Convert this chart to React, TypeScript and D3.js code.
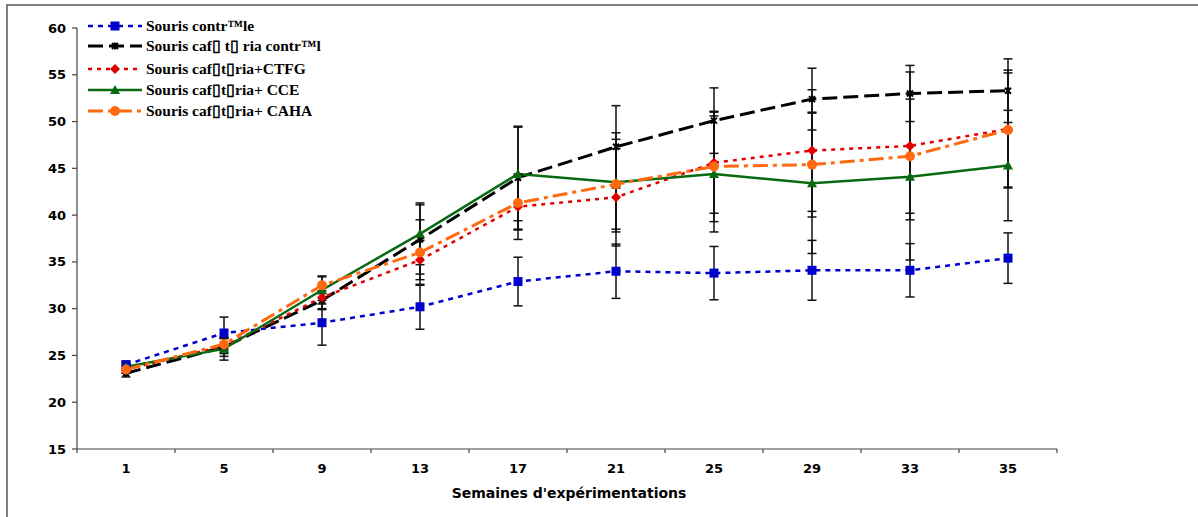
import React from 'react';
import * as d3 from 'd3';

const weeks = ['1', '5', '9', '13', '17', '21', '25', '29', '33', '35'];

const controle = [24.0, 27.4, 28.5, 30.2, 32.9, 34.0, 33.8, 34.1, 34.1, 35.4];
const cafControle = [23.1, 25.9, 30.9, 37.4, 44.0, 47.3, 50.1, 52.4, 53.0, 53.3];
const ctfg = [23.5, 26.0, 31.2, 35.2, 40.9, 41.9, 45.6, 46.9, 47.4, 49.2];
const cce = [23.8, 25.7, 32.0, 38.0, 44.4, 43.5, 44.4, 43.4, 44.1, 45.3];
const caha = [23.5, 26.2, 32.5, 36.0, 41.3, 43.3, 45.2, 45.4, 46.3, 49.1];

const controleSd = [0.4, 1.7, 2.4, 2.4, 2.6, 2.9, 2.85, 3.2, 2.85, 2.7];
const cafControleSd = [0.4, 1.0, 1.0, 3.7, 5.5, 4.4, 3.5, 3.3, 3.0, 3.4];
const ctfgSd = [0.4, 0.8, 1.2, 2.1, 3.5, 5.2, 5.4, 6.5, 7.9, 6.3];
const cceSd = [0.4, 1.2, 1.5, 3.3, 5.0, 5.3, 6.2, 7.5, 8.9, 5.9];
const cahaSd = [0.4, 0.7, 0.9, 3.5, 2.9, 4.8, 5.9, 5.6, 6.1, 6.1];

const yTicks = [15, 20, 25, 30, 35, 40, 45, 50, 55, 60];

const series = [
  { name: 'Souris contr\u2122le', values: controle, sd: controleSd, color: '#0000cc', dash: '5,5', width: 2.5, marker: 'square' },
  { name: 'Souris caf\u25AF t\u25AF ria contr\u2122le', values: cafControle, sd: cafControleSd, color: '#000000', dash: '15,6', width: 3, marker: 'x' },
  { name: 'Souris caf\u25AFt\u25AFria+CTFG', values: ctfg, sd: ctfgSd, color: '#e00000', dash: '4,5', width: 2.5, marker: 'diamond' },
  { name: 'Souris caf\u25AFt\u25AFria+ CCE', values: cce, sd: cceSd, color: '#0a6a12', dash: null, width: 2.5, marker: 'triangle' },
  { name: 'Souris caf\u25AFt\u25AFria+ CAHA', values: caha, sd: cahaSd, color: '#ff6a10', dash: '15,5,4,5', width: 3, marker: 'circle' },
];

const legendY = [26, 46, 69, 90, 111];

function Marker({ type, x, y, color }: { type: string; x: number; y: number; color: string }) {
  if (type === 'square') return <rect x={x - 4.5} y={y - 4.5} width={9} height={9} fill={color} />;
  if (type === 'diamond') return <path d={`M${x},${y - 5}L${x + 5},${y}L${x},${y + 5}L${x - 5},${y}Z`} fill={color} />;
  if (type === 'triangle') return <path d={`M${x},${y - 5}L${x + 5},${y + 4}L${x - 5},${y + 4}Z`} fill={color} />;
  if (type === 'circle') return <circle cx={x} cy={y} r={5} fill={color} />;
  return (
    <g stroke={color} strokeWidth={2}>
      <line x1={x - 3} y1={y - 3} x2={x + 3} y2={y + 3} />
      <line x1={x - 3} y1={y + 3} x2={x + 3} y2={y - 3} />
      <line x1={x} y1={y - 3.5} x2={x} y2={y + 3.5} />
    </g>
  );
}

export default function App() {
  const width = 1198;
  const height = 517;
  const left = 77;
  const right = 1057;
  const top = 28;
  const bottom = 449;

  const x = d3.scaleBand().domain(weeks).range([left, right]);
  const y = d3.scaleLinear().domain([15, 60]).range([bottom, top]);
  const cx = (w: string) => (x(w) as number) + x.bandwidth() / 2;

  const line = d3.line<number>().x((_, i) => cx(weeks[i])).y(d => y(d));

  const bold = 'DejaVu Sans, sans-serif';

  return (
    <div style={{ position: 'absolute', left: 0, top: 0 }}>
      <svg width={width} height={height} style={{ display: 'block' }}>
        <rect x={0} y={0} width={width} height={height} fill="#fff" />
        <rect x={7} y={5} width={1400} height={700} fill="none" stroke="#555" strokeWidth={1.5} />
        <defs>
          <clipPath id="legclip">
            <rect x={80} y={10} width={241} height={120} />
          </clipPath>
        </defs>

        {/* y axis */}
        <line x1={left} y1={top} x2={left} y2={bottom} stroke="#444" strokeWidth={1.2} />
        {yTicks.map(t => (
          <g key={t}>
            <line x1={left - 5} x2={left} y1={y(t)} y2={y(t)} stroke="#444" strokeWidth={1.2} />
            <text x={66} y={y(t)} dy="0.35em" textAnchor="end" fontFamily={bold} fontWeight="bold" fontSize={13}>
              {t}
            </text>
          </g>
        ))}

        {/* x axis */}
        <line x1={left} y1={bottom} x2={right} y2={bottom} stroke="#444" strokeWidth={1.2} />
        {[...weeks.map(w => x(w) as number), right].map((p, i) => (
          <line key={i} x1={p} x2={p} y1={bottom} y2={bottom + 4} stroke="#444" strokeWidth={1.2} />
        ))}
        {weeks.map(w => (
          <text key={w} x={cx(w)} y={468} dy="0.35em" textAnchor="middle" fontFamily={bold} fontWeight="bold" fontSize={13}>
            {w}
          </text>
        ))}
        <text x={(left + right) / 2 + 2} y={493} dy="0.35em" textAnchor="middle" fontFamily={bold} fontWeight="bold" fontSize={14}>
          Semaines d'expérimentations
        </text>

        {/* lines */}
        {series.map(s => (
          <path
            key={s.name}
            d={line(s.values) || ''}
            fill="none"
            stroke={s.color}
            strokeWidth={s.width}
            strokeDasharray={s.dash || undefined}
          />
        ))}

        {/* error bars */}
        {series.map(s =>
          s.values.map((v, i) => {
            const px = cx(weeks[i]);
            const y1 = y(v + s.sd[i]);
            const y2 = y(v - s.sd[i]);
            return (
              <g key={s.name + i} stroke="#111" strokeWidth={1.5}>
                <line x1={px} x2={px} y1={y1} y2={y2} />
                <line x1={px - 4.5} x2={px + 4.5} y1={y1} y2={y1} />
                <line x1={px - 4.5} x2={px + 4.5} y1={y2} y2={y2} />
              </g>
            );
          })
        )}

        {/* markers */}
        {series.map(s =>
          s.values.map((v, i) => (
            <Marker key={s.name + 'm' + i} type={s.marker} x={cx(weeks[i])} y={y(v)} color={s.color} />
          ))
        )}

        {/* legend */}
        {series.map((s, i) => (
          <g key={s.name + 'leg'}>
            <line
              x1={88}
              x2={142}
              y1={legendY[i]}
              y2={legendY[i]}
              stroke={s.color}
              strokeWidth={s.width}
              strokeDasharray={s.dash || undefined}
            />
            <Marker type={s.marker} x={115} y={legendY[i]} color={s.color} />
            <text
              x={146}
              y={legendY[i]}
              dy="0.35em"
              clipPath="url(#legclip)"
              fontFamily="Liberation Serif, serif"
              fontWeight="bold"
              fontSize={15.5}
            >
              {s.name}
            </text>
          </g>
        ))}
      </svg>
    </div>
  );
}
